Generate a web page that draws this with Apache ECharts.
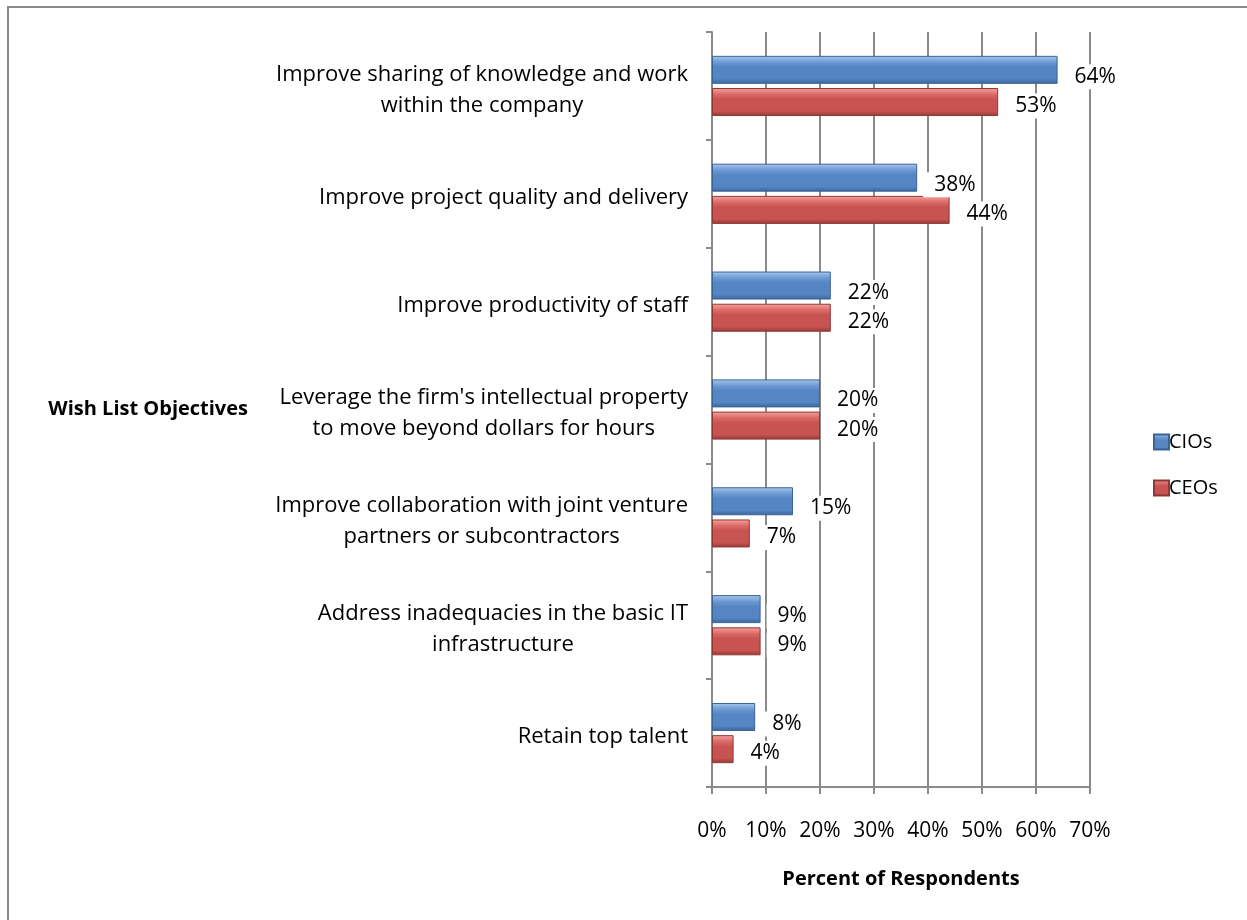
<!DOCTYPE html>
<html>
<head>
<meta charset="utf-8">
<title>Wish List Objectives</title>
<script src="https://cdn.jsdelivr.net/npm/echarts@6/dist/echarts.min.js"></script>
<style>
  html, body { margin: 0; padding: 0; background: #ffffff; }
  #chart { width: 1247px; height: 920px; }
</style>
</head>
<body>
<div id="chart"></div>
<script>
// Objectives, listed from top to bottom
const categories = [
  'Improve sharing of knowledge and work\nwithin the company',
  'Improve project quality and delivery',
  'Improve productivity of staff',
  "Leverage the firm's intellectual property\nto move beyond dollars for hours",
  'Improve collaboration with joint venture\npartners or subcontractors',
  'Address inadequacies in the basic IT\ninfrastructure',
  'Retain top talent'
];
const cioValues = [64, 38, 22, 20, 15, 9, 8];
const ceoValues = [53, 44, 22, 20, 7, 9, 4];
const seriesNames = ['CIOs', 'CEOs'];
const xTicks = [0, 10, 20, 30, 40, 50, 60, 70];

const FONT = '"Open Sans", Lato, sans-serif';

function bevel(top, mid, body, bottom) {
  return new echarts.graphic.LinearGradient(0, 0, 0, 1, [
    { offset: 0, color: top },
    { offset: 0.22, color: mid },
    { offset: 0.4, color: body },
    { offset: 0.82, color: body },
    { offset: 1, color: bottom }
  ]);
}
const blueFill = bevel('#a9c8ef', '#6f9bd3', '#5585c3', '#3c659a');
const redFill = bevel('#f7a3a1', '#dc6b68', '#c85451', '#923a37');

function valueLabel(dy) {
  return {
    show: true,
    position: 'right',
    distance: 6,
    offset: [0, dy],
    formatter: p => p.value + '%',
    fontFamily: FONT,
    fontSize: 21,
    color: '#000',
    backgroundColor: '#ffffff',
    padding: [2, 4, 2, 11]
  };
}

const chart = echarts.init(document.getElementById('chart'));
chart.setOption({
  animation: false,
  backgroundColor: '#ffffff',
  textStyle: { fontFamily: FONT },
  graphic: [{
    type: 'polyline',
    shape: { points: [[8, 925], [8, 7], [1255, 7]] },
    style: { stroke: '#8a8a8a', lineWidth: 2, fill: null },
    silent: true
  }],
  legend: {
    orient: 'vertical',
    left: 1148,
    top: 427,
    itemWidth: 15,
    itemHeight: 15,
    itemGap: 26,
    icon: 'rect',
    data: seriesNames,
    textStyle: { fontFamily: FONT, fontSize: 20, color: '#000', padding: [0, 0, 0, -5] }
  },
  grid: { left: 712, right: 157, top: 32, bottom: 133, containLabel: false },
  xAxis: {
    type: 'value',
    min: xTicks[0],
    max: xTicks[xTicks.length - 1],
    interval: 10,
    name: 'Percent of Respondents',
    nameLocation: 'middle',
    nameGap: 82,
    nameTextStyle: { fontFamily: FONT, fontSize: 20, fontWeight: 'bold', color: '#000' },
    axisLine: { show: true, lineStyle: { color: '#8a8a8a', width: 2 } },
    axisTick: { show: true, length: 7, lineStyle: { color: '#8a8a8a', width: 2 } },
    axisLabel: { margin: 34, fontFamily: FONT, fontSize: 21, color: '#000', formatter: v => v + '%' },
    splitLine: { show: true, lineStyle: { color: '#8a8a8a', width: 2 } }
  },
  yAxis: {
    type: 'category',
    inverse: true,
    data: categories,
    name: 'Wish List Objectives',
    nameLocation: 'middle',
    nameRotate: 0,
    nameGap: 464,
    nameTextStyle: { fontFamily: FONT, fontSize: 20, fontWeight: 'bold', color: '#000', padding: [14, 0, 0, 0] },
    axisLine: { show: true, lineStyle: { color: '#8a8a8a', width: 2 } },
    axisTick: { show: true, length: 6, lineStyle: { color: '#8a8a8a', width: 2 } },
    axisLabel: {
      margin: 24,
      padding: [8, 0, 0, 0],
      formatter: v => v.split('\n').map(l => '{c|' + l + '}').join('\n'),
      rich: { c: { align: 'center', fontFamily: FONT, fontSize: 22, color: '#000', lineHeight: 31 } }
    }
  },
  series: [
    {
      name: seriesNames[0],
      type: 'bar',
      data: cioValues,
      barWidth: 28,
      barGap: '15%',
      itemStyle: { color: blueFill, borderColor: '#3a6396', borderWidth: 1 },
      label: valueLabel(7),
      z: 3
    },
    {
      name: seriesNames[1],
      type: 'bar',
      data: ceoValues,
      barWidth: 28,
      itemStyle: { color: redFill, borderColor: '#8e3835', borderWidth: 1 },
      label: valueLabel(4),
      z: 2
    }
  ]
});
</script>
</body>
</html>
